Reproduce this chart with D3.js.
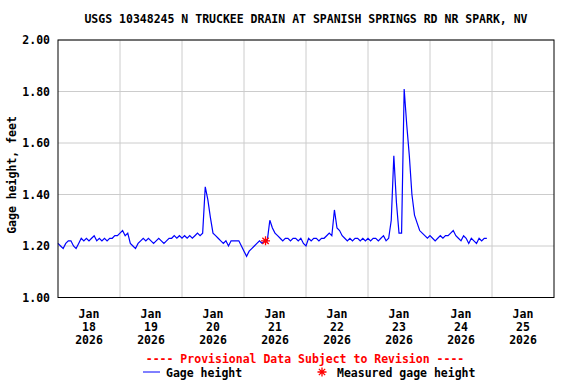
<!DOCTYPE html>
<html>
<head>
<meta charset="utf-8">
<script src="https://cdn.jsdelivr.net/npm/d3@7"></script>
<style>
  body { margin: 0; background: #fff; }
  text { font-family: "DejaVu Sans Mono", monospace; font-weight: bold; font-size: 11.5px; }
</style>
</head>
<body>
<div id="chart"></div>
<script>
// hourly gage height readings, starting Jan 18 2026 00:00
const startTime = Date.UTC(2026, 0, 18, 0, 0);
const gageHeight = [
  1.21, 1.20, 1.19, 1.21, 1.22, 1.22, 1.20, 1.19, 1.21, 1.23,
  1.22, 1.23, 1.22, 1.23, 1.24, 1.22, 1.23, 1.22, 1.23, 1.22,
  1.23, 1.23, 1.24, 1.24, 1.25, 1.26, 1.24, 1.25, 1.21, 1.20,
  1.19, 1.21, 1.22, 1.23, 1.22, 1.23, 1.22, 1.21, 1.22, 1.23,
  1.22, 1.21, 1.22, 1.23, 1.23, 1.24, 1.23, 1.24, 1.23, 1.24,
  1.23, 1.24, 1.23, 1.24, 1.25, 1.24, 1.25, 1.43, 1.38, 1.31,
  1.25, 1.24, 1.23, 1.22, 1.21, 1.22, 1.20, 1.22, 1.22, 1.22,
  1.22, 1.20, 1.18, 1.16, 1.18, 1.19, 1.20, 1.21, 1.22, 1.21,
  1.22, 1.22, 1.30, 1.27, 1.25, 1.24, 1.23, 1.22, 1.23, 1.23,
  1.22, 1.23, 1.23, 1.22, 1.23, 1.21, 1.20, 1.23, 1.22, 1.23,
  1.23, 1.22, 1.23, 1.23, 1.24, 1.25, 1.24, 1.34, 1.27, 1.26,
  1.24, 1.23, 1.22, 1.23, 1.22, 1.23, 1.23, 1.22, 1.23, 1.22,
  1.23, 1.22, 1.23, 1.23, 1.22, 1.23, 1.24, 1.22, 1.23, 1.30,
  1.55, 1.37, 1.25, 1.25, 1.81, 1.67, 1.55, 1.40, 1.32, 1.29,
  1.26, 1.25, 1.24, 1.23, 1.24, 1.23, 1.22, 1.23, 1.24, 1.23,
  1.24, 1.24, 1.25, 1.26, 1.24, 1.23, 1.22, 1.24, 1.23, 1.21,
  1.23, 1.22, 1.21, 1.23, 1.22, 1.23, 1.23
];
const measured = [{ time: Date.UTC(2026, 0, 21, 8, 20), value: 1.22 }];
const yTicks = [1.0, 1.2, 1.4, 1.6, 1.8, 2.0];
const dayLabels = ["18", "19", "20", "21", "22", "23", "24", "25"];

const width = 576, height = 384;
const plotLeft = 58, plotRight = 554, plotTop = 40, plotBottom = 297.5;

const svg = d3.select("#chart").append("svg")
  .attr("width", width)
  .attr("height", height);

const x = d3.scaleUtc()
  .domain([new Date(Date.UTC(2026, 0, 18)), new Date(Date.UTC(2026, 0, 26))])
  .range([plotLeft, plotRight]);
const y = d3.scaleLinear().domain([1, 2]).range([plotBottom, plotTop]);

const series = gageHeight.map((v, i) => ({ time: new Date(startTime + i * 3600000), value: v }));

// Title
svg.append("text")
  .attr("x", (plotLeft + plotRight) / 2)
  .attr("y", 23)
  .attr("text-anchor", "middle")
  .text("USGS 10348245 N TRUCKEE DRAIN AT SPANISH SPRINGS RD NR SPARK, NV");

// Grid
const days = d3.utcDay.range(new Date(Date.UTC(2026, 0, 19)), new Date(Date.UTC(2026, 0, 26)));
svg.append("g")
  .selectAll("line")
  .data(days)
  .join("line")
  .attr("x1", d => x(d)).attr("x2", d => x(d))
  .attr("y1", plotTop).attr("y2", plotBottom)
  .attr("stroke", "#cccccc");

svg.append("g")
  .selectAll("line")
  .data(yTicks)
  .join("line")
  .attr("x1", plotLeft).attr("x2", plotRight)
  .attr("y1", d => y(d)).attr("y2", d => y(d))
  .attr("stroke", "#cccccc");

// Y axis labels
svg.append("g")
  .selectAll("text")
  .data(yTicks)
  .join("text")
  .attr("x", 50)
  .attr("y", d => y(d) + 4)
  .attr("text-anchor", "end")
  .text(d3.format(".2f"));

svg.append("text")
  .attr("transform", "translate(16,175) rotate(-90)")
  .attr("text-anchor", "middle")
  .text("Gage height, feet");

// X axis labels (centred at noon)
const noon = d => x(new Date(Date.UTC(2026, 0, +d, 12)));
const labelG = svg.append("g")
  .selectAll("text")
  .data(dayLabels)
  .join("text")
  .attr("text-anchor", "middle")
  .attr("x", noon)
  .attr("y", 318);
labelG.append("tspan").text("Jan");
labelG.append("tspan").attr("x", noon).attr("dy", 13).text(d => d);
labelG.append("tspan").attr("x", noon).attr("dy", 13).text("2026");

// Line
const line = d3.line()
  .x(d => x(d.time))
  .y(d => y(d.value));

svg.append("path")
  .datum(series)
  .attr("fill", "none")
  .attr("stroke", "#0000ff")
  .attr("stroke-width", 1.2)
  .attr("d", line);

// Measured points
function asterisk(g, cx, cy, r) {
  return g.append("path")
    .attr("d", `M${cx - r},${cy}H${cx + r}M${cx},${cy - r}V${cy + r}` +
      `M${cx - r * 0.7},${cy - r * 0.7}L${cx + r * 0.7},${cy + r * 0.7}` +
      `M${cx - r * 0.7},${cy + r * 0.7}L${cx + r * 0.7},${cy - r * 0.7}`)
    .attr("stroke", "#ff0000")
    .attr("stroke-width", 1.3)
    .attr("fill", "none");
}
measured.forEach(m => asterisk(svg, x(new Date(m.time)), y(m.value), 4.5));

// Border
svg.append("rect")
  .attr("x", plotLeft).attr("y", plotTop)
  .attr("width", plotRight - plotLeft).attr("height", plotBottom - plotTop)
  .attr("fill", "none")
  .attr("stroke", "#000")
  .attr("stroke-width", 1);

// Legend
svg.append("text")
  .attr("x", 305)
  .attr("y", 363)
  .attr("text-anchor", "middle")
  .attr("fill", "#ff0000")
  .text("---- Provisional Data Subject to Revision ----");

svg.append("line")
  .attr("x1", 143).attr("x2", 160)
  .attr("y1", 372).attr("y2", 372)
  .attr("stroke", "#0000ff");
svg.append("text").attr("x", 166).attr("y", 377).text("Gage height");

asterisk(svg, 322, 372, 4.5);
svg.append("text").attr("x", 337).attr("y", 377).text("Measured gage height");
</script>
</body>
</html>
